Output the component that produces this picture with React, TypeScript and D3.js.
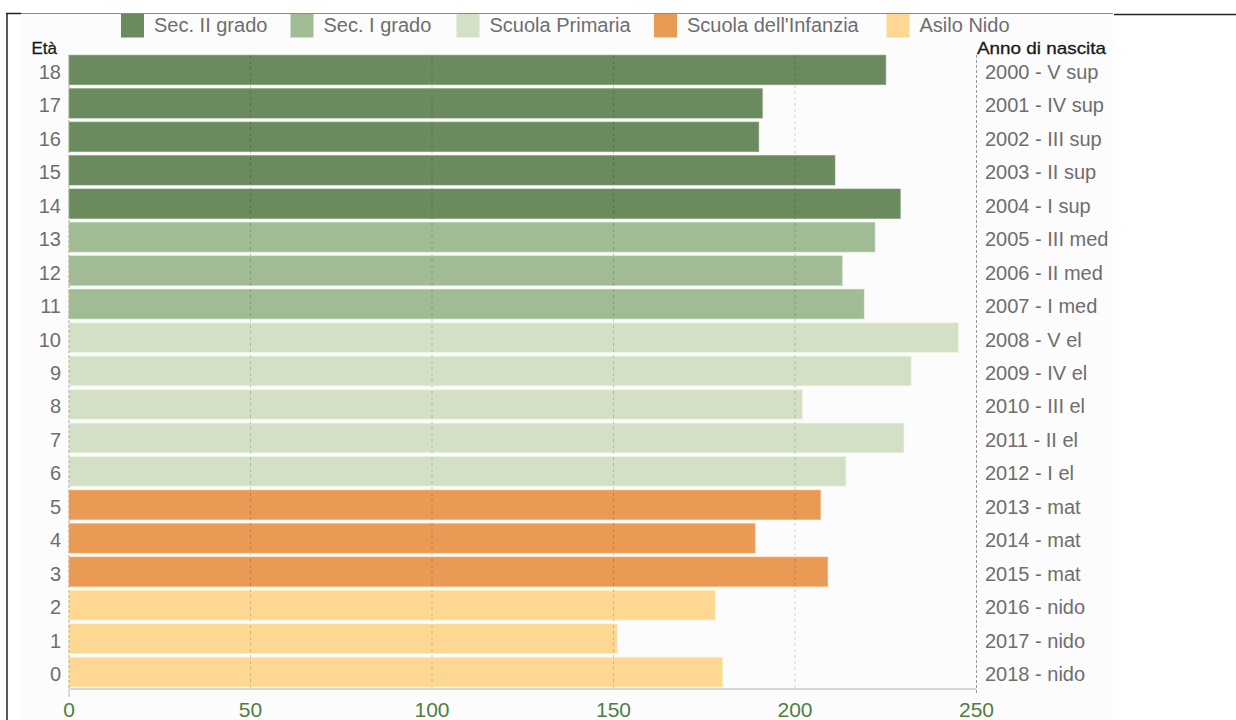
import React from "react";
import * as d3 from "d3";

// Età (ages), from oldest to youngest
const ages = ["18", "17", "16", "15", "14", "13", "12", "11", "10", "9", "8", "7", "6", "5", "4", "3", "2", "1", "0"];

// Anno di nascita / classe
const birthLabels = [
  "2000 - V sup", "2001 - IV sup", "2002 - III sup", "2003 - II sup", "2004 - I sup",
  "2005 - III med", "2006 - II med", "2007 - I med",
  "2008 - V el", "2009 - IV el", "2010 - III el", "2011 - II el", "2012 - I el",
  "2013 - mat", "2014 - mat", "2015 - mat",
  "2016 - nido", "2017 - nido", "2018 - nido",
];

// Numero di bambini/ragazzi per età
const counts = [225, 191, 190, 211, 229, 222, 213, 219, 245, 232, 202, 230, 214, 207, 189, 209, 178, 151, 180];

// Ordine di scuola per ciascuna età (indice in schoolLevels)
const rowLevel = [0, 0, 0, 0, 0, 1, 1, 1, 2, 2, 2, 2, 2, 3, 3, 3, 4, 4, 4];

const schoolLevels = ["Sec. II grado", "Sec. I grado", "Scuola Primaria", "Scuola dell'Infanzia", "Asilo Nido"];
const levelColors = ["#6b8b5e", "#a1bb94", "#d4e0c5", "#e99b56", "#fed892"];

const xTicks = [0, 50, 100, 150, 200, 250];
const gridTicks = [50, 100, 150, 200];

// legend layout (left edge of each swatch)
const legendX = [121, 290.5, 456.5, 654, 886.5];

const FONT = "'Liberation Sans', Arial, sans-serif";

export default function App() {
  const width = 1236;
  const height = 720;

  const x = d3.scaleLinear().domain([0, 250]).range([69, 976.5]);
  const y = d3.scaleBand<string>().domain(ages).range([53.5, 688.5]).paddingInner(0.12).paddingOuter(0.05);
  const color = d3.scaleOrdinal<number, string>().domain(d3.range(schoolLevels.length)).range(levelColors);

  const rows = ages.map((age, i) => ({ age, value: counts[i], level: rowLevel[i], label: birthLabels[i] }));

  const plotTop = 55;
  const axisY = 689;
  const labelY = (age: string) => y(age)! + y.bandwidth() / 2 + 9;

  return (
    <svg
      width={width}
      height={height}
      style={{ position: "absolute", left: 0, top: 0, display: "block" }}
      fontFamily={FONT}
    >
      {/* panel */}
      <rect x={21} y={14} width={1092} height={height - 14} fill="#fcfcfc" />
      <line x1={7} x2={1113} y1={13.5} y2={13.5} stroke="#8a8a8a" strokeWidth={1} />
      <line x1={6} x2={21} y1={13.5} y2={13.5} stroke="#222" strokeWidth={1.5} />
      <line x1={1114} x2={1236} y1={14.5} y2={14.5} stroke="#222" strokeWidth={1.5} />
      <line x1={7} x2={7} y1={13} y2={height} stroke="#222" strokeWidth={1.5} />

      {/* legend */}
      {schoolLevels.map((name, i) => (
        <g key={name} transform={`translate(${legendX[i]},0)`}>
          <rect x={0} y={14} width={23} height={23.5} fill={color(i)} />
          <text x={33} y={32} fontSize={20} fill="#6e6e6e">
            {name}
          </text>
        </g>
      ))}

      {/* bars */}
      {rows.map((r) => (
        <rect
          key={r.age}
          x={x(0)}
          y={y(r.age)}
          width={x(r.value) - x(0)}
          height={y.bandwidth()}
          fill={color(r.level)}
          stroke={d3.color(color(r.level))!.brighter(0.25).formatHex()}
          strokeOpacity={0.6}
          strokeWidth={1}
        />
      ))}

      {/* vertical grid lines over the bars */}
      {gridTicks.map((t) => (
        <line
          key={t}
          x1={x(t)}
          x2={x(t)}
          y1={plotTop}
          y2={axisY}
          stroke="#000"
          strokeOpacity={0.17}
          strokeDasharray="3,3"
        />
      ))}

      {/* left and right dashed frames */}
      <line x1={x(0)} x2={x(0)} y1={plotTop} y2={axisY} stroke="#aaa" strokeDasharray="3,2" />
      <line x1={x(250)} x2={x(250)} y1={plotTop} y2={axisY + 4} stroke="#999" strokeDasharray="3,2" />

      {/* x axis */}
      <line x1={x(0)} x2={x(250)} y1={axisY} y2={axisY} stroke="#cccccc" strokeWidth={1.5} />
      <line x1={x(0)} x2={x(0)} y1={axisY} y2={axisY + 8} stroke="#cccccc" strokeWidth={1.5} />
      {xTicks.map((t) => (
        <text key={t} x={x(t)} y={717} fontSize={21} fill="#4d7f3f" textAnchor="middle">
          {t}
        </text>
      ))}

      {/* left labels: age */}
      <text x={31.5} y={54} fontSize={17} fill="#1a1a1a" stroke="#1a1a1a" strokeWidth={0.3}>
        Età
      </text>
      {rows.map((r) => (
        <text key={r.age} x={61} y={labelY(r.age)} fontSize={20} fill="#6e6e6e" textAnchor="end">
          {r.age}
        </text>
      ))}

      {/* right labels: year of birth */}
      <text
        x={977}
        y={54}
        fontSize={17}
        fill="#1a1a1a"
        stroke="#1a1a1a"
        strokeWidth={0.3}
        textLength={129}
        lengthAdjust="spacingAndGlyphs"
      >
        Anno di nascita
      </text>
      {rows.map((r) => (
        <text key={r.label} x={985} y={labelY(r.age)} fontSize={20} fill="#6e6e6e">
          {r.label}
        </text>
      ))}
    </svg>
  );
}
